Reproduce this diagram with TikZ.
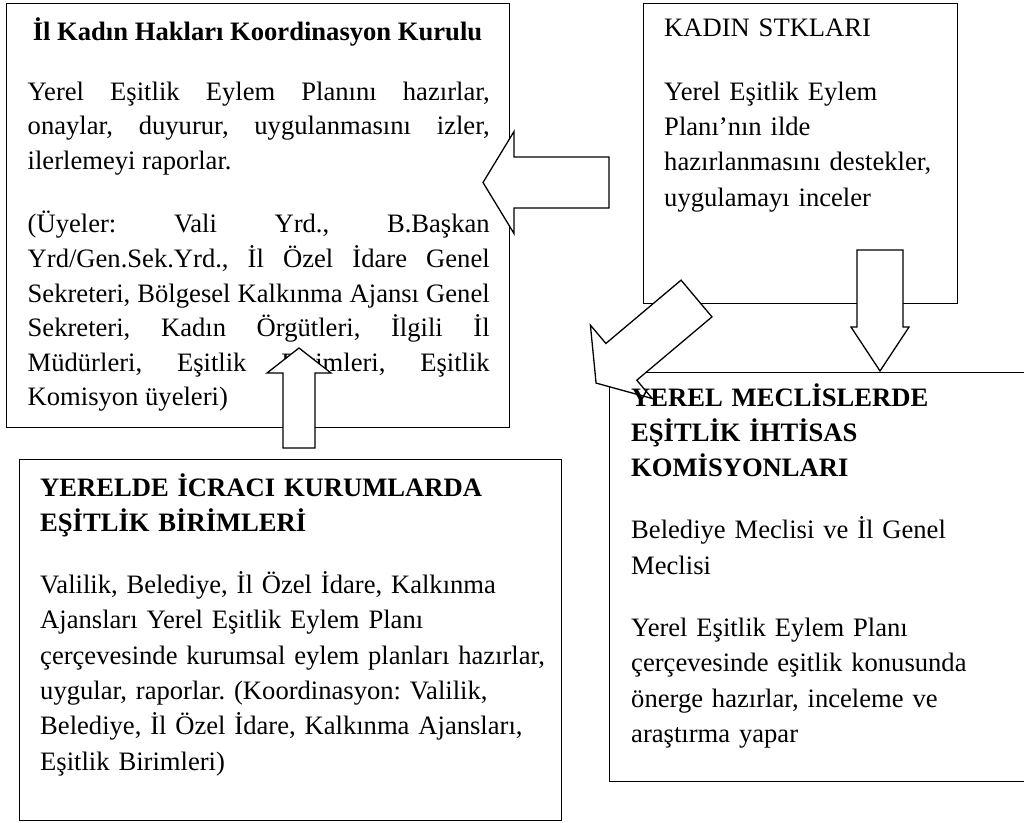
\documentclass[tikz,border=0pt]{standalone}
\usepackage{fontspec}
\setmainfont{Liberation Serif}
\frenchspacing

\tikzset{
  panel/.style={draw, line width=1.3pt, inner sep=0pt, anchor=north west},
  boxtext/.style={anchor=base west, inner sep=0pt, align=left, text width=#1,
    font=\fontsize{26.6}{35.3}\selectfont},
  boxtext/.default=300pt,
  arrowbox/.style={draw, fill=white, line width=1.3pt},
}

% tail, angle, length, head length, body half width, head half width
\newcommand{\blokok}[6]{%
  \draw[arrowbox, shift={(#1)}, rotate=#2] (0,-#5) -- ({#3-#4},-#5) -- ({#3-#4},-#6)
    -- (#3,0) -- ({#3-#4},#6) -- ({#3-#4},#5) -- (0,#5) -- cycle;}

\begin{document}
\begin{tikzpicture}[x=1pt,y=-1pt]
\clip (0,0) rectangle (1024,822);
% kutular
\node[panel, minimum width=503pt, minimum height=424pt] (kurul) at (6,3) {};
\node[panel, minimum width=314pt, minimum height=300pt] (stk) at (643,3) {};
\node[panel, minimum width=431pt, minimum height=409pt] (meclis) at (609,372) {};
\node[panel, minimum width=542pt, minimum height=361pt] (birim) at (19,459) {};
% yazilar
\node[anchor=base, inner sep=0pt, font=\bfseries\fontsize{26.6}{35.3}\selectfont] (kurulbaslik) at (257.5,40) {İl Kadın Hakları Koordinasyon Kurulu};
\node[boxtext=462pt, align=justify, font=\fontsize{26.6}{34.6}\selectfont] (kurulmetin) at (27.5,100)
  {Yerel Eşitlik Eylem Planını hazırlar,\linebreak onaylar, duyurur, uygulanmasını izler,\linebreak ilerlemeyi raporlar.\\[29pt]
   (Üyeler: Vali Yrd., B.Başkan\linebreak Yrd/Gen.Sek.Yrd., İl Özel İdare Genel\linebreak Sekreteri, Bölgesel Kalkınma Ajansı Genel\linebreak
   Sekreteri, Kadın Örgütleri, İlgili İl\linebreak Müdürleri, Eşitlik Birimleri, Eşitlik\linebreak Komisyon üyeleri)};
\node[boxtext=290pt] (stkmetin) at (664,36)
  {KADIN STKLARI\\[29pt]Yerel Eşitlik Eylem\\Planı’nın ilde\\hazırlanmasını destekler,\\uygulamayı inceler};
\node[boxtext=515pt] (birimmetin) at (40,496)
  {{\bfseries YERELDE İCRACI KURUMLARDA\\EŞİTLİK BİRİMLERİ}\\[27pt]
   Valilik, Belediye, İl Özel İdare, Kalkınma\\Ajansları Yerel Eşitlik Eylem Planı\\çerçevesinde kurumsal eylem planları hazırlar,\\
   uygular, raporlar. (Koordinasyon: Valilik,\\Belediye, İl Özel İdare, Kalkınma Ajansları,\\Eşitlik Birimleri)};
% oklar
\coordinate (solok) at (609,182.5);
\coordinate (asagiok) at (880,250);
\coordinate (yukariok) at (299,448);
\coordinate (caprazok) at (696.5,298.5);
\blokok{solok}{180}{126}{31}{25.5}{51}
\blokok{asagiok}{270}{121}{44}{23}{29}
\blokok{yukariok}{90}{100}{25}{16}{32}
\blokok{caprazok}{220.1}{131.3}{33}{24}{48}
\node[boxtext=380pt] (meclismetin) at (631,406)
  {{\bfseries YEREL MECLİSLERDE\\EŞİTLİK İHTİSAS\\KOMİSYONLARI}\\[27pt]
   Belediye Meclisi ve İl Genel\\Meclisi\\[27pt]
   Yerel Eşitlik Eylem Planı\\çerçevesinde eşitlik konusunda\\önerge hazırlar, inceleme ve\\araştırma yapar};
\end{tikzpicture}
\end{document}
